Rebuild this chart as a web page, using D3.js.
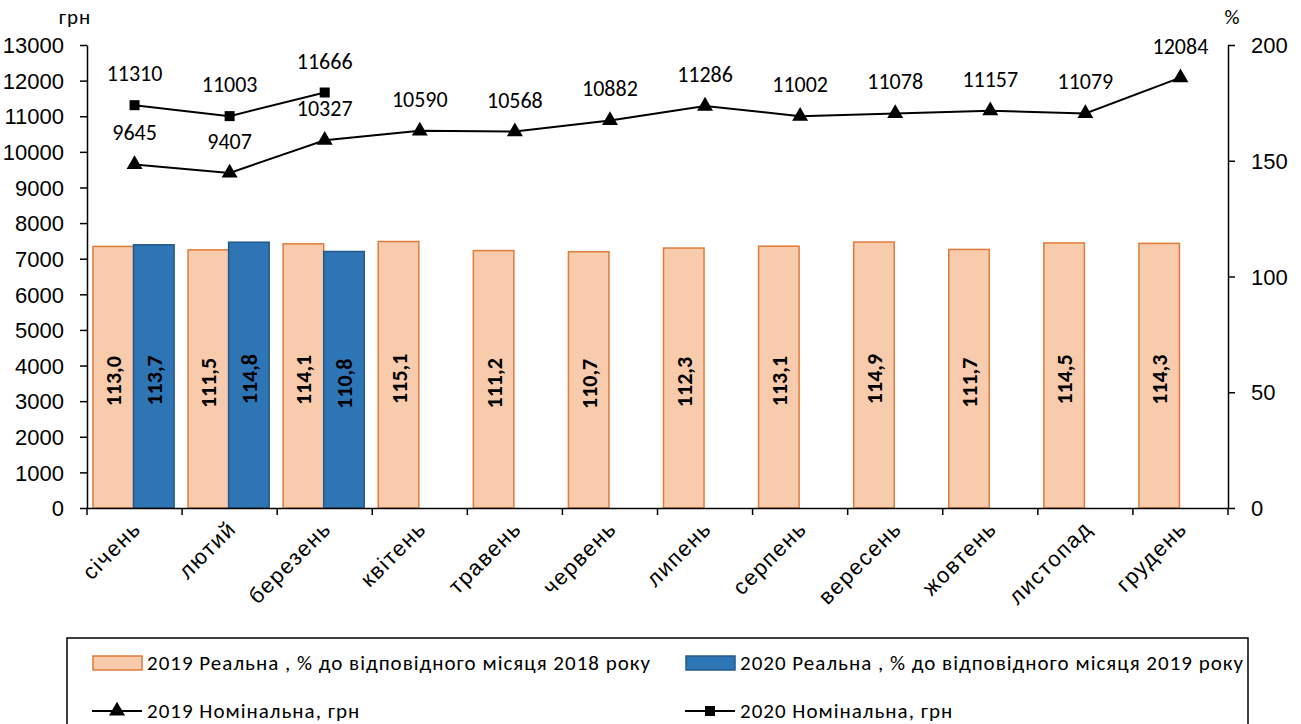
<!DOCTYPE html>
<html>
<head>
<meta charset="utf-8">
<script src="https://cdn.jsdelivr.net/npm/d3@7"></script>
<style>
    body { margin: 0; background: #fff; }
    svg { display: block; font-family: Carlito, 'Open Sans', sans-serif; }
    .axis text { font-size: 22px; fill: #000; }
    .axis line, .axis path { stroke: #000; stroke-width: 1.5px; }
</style>
</head>
<body>
<div id="chart"></div>
<script>
// Data
const months = ['січень', 'лютий', 'березень', 'квітень', 'травень', 'червень',
    'липень', 'серпень', 'вересень', 'жовтень', 'листопад', 'грудень'];
const real2019 = [113.0, 111.5, 114.1, 115.1, 111.2, 110.7, 112.3, 113.1, 114.9, 111.7, 114.5, 114.3];
const real2020 = [113.7, 114.8, 110.8];
const nominal2019 = [9645, 9407, 10327, 10590, 10568, 10882, 11286, 11002, 11078, 11157, 11079, 12084];
const nominal2020 = [11310, 11003, 11666];
const leftTicks = d3.range(0, 13001, 1000);
const rightTicks = [0, 50, 100, 150, 200];

const COLORS = {
    bar2019: '#F8CBAD', bar2019Stroke: '#E07B39',
    bar2020: '#2E75B6', bar2020Stroke: '#24598A',
    line: '#000'
};

const W = 1301, H = 724;
const margin = { top: 45, right: 73, bottom: 216, left: 87 };
const width = W - margin.left - margin.right;
const height = H - margin.top - margin.bottom;

const svg = d3.select('#chart').append('svg')
    .attr('width', W).attr('height', H);
const g = svg.append('g').attr('transform', `translate(${margin.left},${margin.top})`);

const x = d3.scaleBand().domain(months).range([0, width]).padding(0);
const xInner = d3.scaleBand().domain(['2019', '2020']).range([6, x.bandwidth() - 8]).padding(0);
const yLeft = d3.scaleLinear().domain([0, 13000]).range([height, 0]);
const yRight = d3.scaleLinear().domain([0, 200]).range([height, 0]);

const fmtPct = d => d.toFixed(1).replace('.', ',');

// Bars
const barSeries = [
    { key: '2019', values: real2019, fill: COLORS.bar2019, stroke: COLORS.bar2019Stroke },
    { key: '2020', values: real2020, fill: COLORS.bar2020, stroke: COLORS.bar2020Stroke }
];
barSeries.forEach(s => {
    const data = s.values.map((v, i) => ({ month: months[i], v }));
    g.selectAll(`.bar-${s.key}`).data(data).enter().append('rect')
        .attr('class', `bar-${s.key}`)
        .attr('x', d => x(d.month) + xInner(s.key))
        .attr('y', d => yRight(d.v))
        .attr('width', xInner.bandwidth())
        .attr('height', d => height - yRight(d.v))
        .attr('fill', s.fill)
        .attr('stroke', s.stroke)
        .attr('stroke-width', 1.5);

    g.selectAll(`.lbl-${s.key}`).data(data).enter().append('text')
        .attr('class', `lbl-${s.key}`)
        .attr('transform', d => {
            const cx = x(d.month) + xInner(s.key) + xInner.bandwidth() / 2;
            const cy = (yRight(d.v) + height) / 2 + 4;
            return `translate(${cx + 8},${cy}) rotate(-90)`;
        })
        .attr('text-anchor', 'middle')
        .attr('font-size', 22)
        .attr('font-weight', 'bold')
        .text(d => fmtPct(d.v));
});

// Axes
const xAxisG = g.append('g').attr('class', 'axis')
    .attr('transform', `translate(0,${height})`)
    .call(d3.axisBottom(x).tickSize(0).tickFormat(''));
xAxisG.selectAll('.tick').remove();
xAxisG.selectAll('.bnd').data(d3.range(months.length + 1)).enter().append('line')
    .attr('class', 'bnd')
    .attr('x1', i => i * x.bandwidth()).attr('x2', i => i * x.bandwidth())
    .attr('y1', 0).attr('y2', 7);
xAxisG.selectAll('.mlabel').data(months).enter().append('text')
    .attr('class', 'mlabel')
    .attr('transform', d => `translate(${x(d) + x.bandwidth() / 2 + 8},${22}) rotate(-45)`)
    .attr('text-anchor', 'end')
    .attr('letter-spacing', 1.5)
    .text(d => d);

g.append('g').attr('class', 'axis')
    .call(d3.axisLeft(yLeft).tickValues(leftTicks).tickFormat(d3.format('d'))
        .tickSize(7).tickPadding(16).tickSizeOuter(0));
g.append('g').attr('class', 'axis')
    .attr('transform', `translate(${width},0)`)
    .call(d3.axisRight(yRight).tickValues(rightTicks).tickSize(7).tickPadding(16).tickSizeOuter(0));

g.selectAll('.axis .tick text').attr('dy', '0.35em');

svg.append('text').attr('x', 75).attr('y', 24).attr('text-anchor', 'middle')
    .attr('font-size', 21).attr('letter-spacing', 1).text('грн');
svg.append('text').attr('x', 1232).attr('y', 24).attr('text-anchor', 'middle')
    .attr('font-size', 21).text('%');

// Lines
const line = d3.line()
    .x(d => x(d.month) + x.bandwidth() / 2)
    .y(d => yLeft(d.v));
const tri = d3.symbol().type(d3.symbolTriangle).size(110);
const sq = d3.symbol().type(d3.symbolSquare).size(100);

const lineSeries = [
    { key: 'n2019', values: nominal2019, symbol: tri },
    { key: 'n2020', values: nominal2020, symbol: sq }
];
lineSeries.forEach(s => {
    const data = s.values.map((v, i) => ({ month: months[i], v }));
    g.append('path').datum(data)
        .attr('d', line)
        .attr('fill', 'none')
        .attr('stroke', COLORS.line)
        .attr('stroke-width', 2);
    g.selectAll(`.pt-${s.key}`).data(data).enter().append('path')
        .attr('d', s.symbol)
        .attr('transform', d => `translate(${x(d.month) + x.bandwidth() / 2},${yLeft(d.v)})`)
        .attr('fill', COLORS.line);
    g.selectAll(`.vl-${s.key}`).data(data).enter().append('text')
        .attr('x', d => x(d.month) + x.bandwidth() / 2)
        .attr('y', d => yLeft(d.v) - 24)
        .attr('text-anchor', 'middle')
        .attr('font-size', 22)
        .text(d => d.v);
});

// Legend
const legend = svg.append('g');
legend.append('rect')
    .attr('x', 67).attr('y', 638).attr('width', 1181).attr('height', 100)
    .attr('fill', 'none').attr('stroke', '#000').attr('stroke-width', 1.5);

const legendItems = [
    { label: '2019 Реальна , % до відповідного місяця 2018 року', type: 'bar', fill: COLORS.bar2019, stroke: COLORS.bar2019Stroke, x: 92, y: 663 },
    { label: '2020 Реальна , % до відповідного місяця 2019 року', type: 'bar', fill: COLORS.bar2020, stroke: COLORS.bar2020Stroke, x: 685, y: 663 },
    { label: '2019 Номінальна, грн', type: 'line', symbol: tri, x: 92, y: 711 },
    { label: '2020 Номінальна, грн', type: 'line', symbol: sq, x: 685, y: 711 }
];
legendItems.forEach(it => {
    const li = legend.append('g').attr('transform', `translate(${it.x},${it.y})`);
    if (it.type === 'bar') {
        li.append('rect').attr('x', 1).attr('y', -7).attr('width', 49).attr('height', 14)
            .attr('fill', it.fill).attr('stroke', it.stroke).attr('stroke-width', 1.5);
    } else {
        li.append('line').attr('x1', 0).attr('x2', 50).attr('y1', 0).attr('y2', 0)
            .attr('stroke', '#000').attr('stroke-width', 2);
        li.append('path').attr('d', it.symbol).attr('transform', 'translate(25,0)');
    }
    li.append('text').attr('x', 55).attr('y', 0).attr('dy', '0.35em')
        .attr('font-size', 21).attr('letter-spacing', 1).text(it.label);
});
</script>
</body>
</html>
